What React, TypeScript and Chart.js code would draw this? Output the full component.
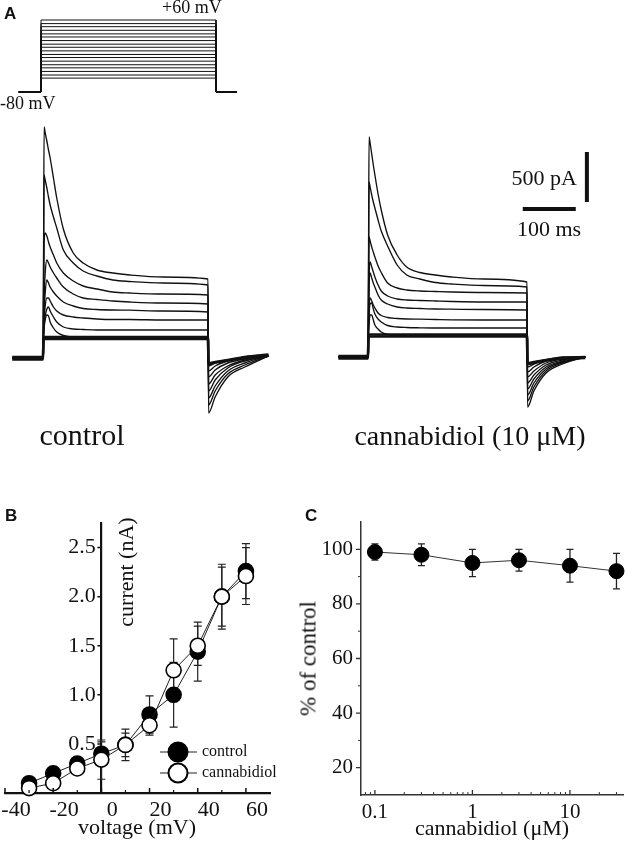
import React, { useEffect, useRef } from "react";
import { Chart, registerables } from "chart.js";

Chart.register(...registerables);

const SERIF = '"Liberation Serif", "Times New Roman", serif';
const SANS = '"Liberation Sans", Arial, sans-serif';
const INK = "#111";

// ---------- Panel A: voltage protocol (ms, mV) ----------
const protocolTime = [-38, 0, 300, 336];
const holdingPotential = -80;
const stepPotentials = [60, 53, 47, 40, 33, 27, 20, 13, 7, 0, -7, -13, -20, -27, -33, -40, -47, -53];

// ---------- Panel A: current traces (ms, pA) ----------
const traceTime = [-56, 0, 1, 2, 4, 7, 10, 13, 19, 25, 37, 55, 73, 98, 127, 158, 218, 300, 301, 313, 336, 367, 410];

const controlTraces = [
  [0, 0, 1000, 2310, 2250, 2170, 2080, 2000, 1800, 1600, 1290, 1050, 950, 880, 850, 830, 810, 790, -550, -390, -190, -90, 20],
  [0, 0, 800, 1830, 1780, 1700, 1610, 1530, 1410, 1300, 1080, 950, 870, 820, 780, 765, 750, 730, -470, -330, -160, -70, 20],
  [0, 0, 600, 1150, 1250, 1220, 1160, 1110, 1030, 950, 850, 770, 720, 690, 660, 650, 640, 630, -400, -280, -130, -50, 20],
  [0, 0, 300, 600, 850, 980, 950, 910, 850, 800, 710, 640, 600, 585, 570, 560, 550, 540, -330, -220, -100, -30, 20],
  [0, 0, 250, 450, 650, 780, 750, 710, 660, 620, 560, 520, 495, 485, 480, 478, 470, 460, -260, -170, -80, -20, 20],
  [0, 0, 230, 380, 520, 600, 600, 570, 510, 470, 430, 410, 400, 390, 385, 385, 380, 380, -190, -120, -50, -10, 20],
  [0, 0, 220, 330, 420, 490, 510, 470, 410, 360, 310, 290, 285, 280, 280, 280, 280, 280, -130, -80, -30, 0, 20],
  [0, 0, 200, 300, 380, 430, 420, 360, 300, 260, 225, 210, 205, 200, 200, 200, 200, 200, -80, -50, -20, 0, 20],
];
const controlLeakTraces = [
  [10, 10, 210, 210, 210, 210, 210, 210, 210, 210, 210, 210, 210, 210, 210, 210, 210, 210, -50, -40, -20, 10, 35],
  [-15, -15, 190, 190, 190, 190, 190, 190, 190, 190, 190, 190, 190, 190, 190, 190, 190, 190, -60, -45, -25, 5, 25],
];

const cbdTraces = [
  [0, 0, 1000, 2200, 2140, 2030, 1920, 1820, 1630, 1470, 1220, 1020, 900, 845, 820, 800, 780, 750, -500, -340, -160, -70, 0],
  [0, 0, 800, 1750, 1700, 1620, 1550, 1490, 1370, 1260, 1110, 920, 820, 780, 745, 730, 715, 700, -440, -300, -140, -60, 0],
  [0, 0, 600, 1200, 1160, 1100, 1050, 1000, 910, 845, 740, 690, 670, 660, 655, 650, 645, 640, -380, -260, -120, -50, 0],
  [0, 0, 400, 800, 950, 900, 850, 800, 720, 660, 610, 580, 570, 565, 560, 555, 550, 550, -320, -220, -100, -40, 0],
  [0, 0, 350, 700, 840, 790, 740, 700, 620, 570, 530, 500, 490, 485, 480, 478, 475, 470, -260, -180, -80, -30, 0],
  [0, 0, 300, 500, 590, 560, 520, 490, 440, 415, 395, 385, 380, 378, 375, 372, 370, 370, -200, -140, -60, -20, 0],
  [0, 0, 250, 420, 530, 540, 480, 430, 380, 350, 315, 300, 295, 292, 290, 290, 290, 290, -150, -100, -40, -10, 0],
  [0, 0, 220, 330, 420, 420, 370, 320, 280, 250, 225, 215, 212, 210, 210, 210, 210, 210, -100, -70, -30, 0, 0],
];
const cbdLeakTraces = [
  [10, 10, 225, 225, 225, 225, 225, 225, 225, 225, 225, 225, 225, 225, 225, 225, 225, 225, -60, -50, -30, -10, 0],
  [-15, -15, 205, 205, 205, 205, 205, 205, 205, 205, 205, 205, 205, 205, 205, 205, 205, 205, -70, -55, -35, -15, -10],
];

// scale bars: 500 pA and 100 ms
const scaleBarCurrentPA = [1550, 2050];
const scaleBarCurrentAt = 413;
const scaleBarTimeMs = [292, 392];
const scaleBarTimeAt = 1480;

// ---------- Panel B: I-V relation ----------
const voltages = [-30, -20, -10, 0, 10, 20, 30, 40, 50, 60];
const controlCurrent = [0.1, 0.2, 0.3, 0.4, 0.49, 0.8, 1.0, 1.44, 2.0, 2.26];
const controlSem = [0.03, 0.03, 0.04, 0.12, 0.12, 0.19, 0.33, 0.3, 0.33, 0.28];
const cbdCurrent = [0.05, 0.1, 0.25, 0.34, 0.49, 0.69, 1.25, 1.5, 2.0, 2.21];
const cbdSem = [0.03, 0.03, 0.05, 0.2, 0.16, 0.1, 0.32, 0.2, 0.3, 0.29];
const ivXTicks = [-40, -20, 0, 20, 40, 60];
const ivXMinor = [-30, -10, 10, 30, 50];
const ivYTicks = [0.5, 1.0, 1.5, 2.0, 2.5];

// ---------- Panel C: concentration dependence ----------
const concentrations = [0.1, 0.3, 1, 3, 10, 30];
const percentControl = [99, 98, 95, 96, 94, 92];
const percentSem = [3, 4, 5, 4, 6, 6.5];
const doseXTicks = [0.1, 1, 10];
const doseXMinor = [0.08, 0.09, 0.2, 0.3, 0.4, 0.5, 0.6, 0.7, 0.8, 0.9, 2, 3, 4, 5, 6, 7, 8, 9, 20, 30];
const doseYTicks = [20, 40, 60, 80, 100];
const doseYMinor = [30, 50, 70, 90];

// ---------- decoration plugin (error bars, tick marks, legend) ----------
function makeDecor(cfg: any) {
  return {
    id: "decor",
    beforeDatasetsDraw(chart: any) {
      const ctx = chart.ctx;
      for (const b of cfg.errorBars || []) {
        const meta = chart.getDatasetMeta(b.dataset);
        const ds = chart.data.datasets[b.dataset];
        const ys = chart.scales[meta.yAxisID];
        ctx.save();
        ctx.strokeStyle = b.color;
        ctx.lineWidth = b.width;
        meta.data.forEach((el: any, i: number) => {
          const v = ds.data[i].y;
          const e = b.errors[i];
          const x = el.x;
          const y1 = ys.getPixelForValue(v + e);
          const y2 = ys.getPixelForValue(v - e);
          ctx.beginPath();
          ctx.moveTo(x, y1);
          ctx.lineTo(x, y2);
          ctx.moveTo(x - b.cap, y1);
          ctx.lineTo(x + b.cap, y1);
          ctx.moveTo(x - b.cap, y2);
          ctx.lineTo(x + b.cap, y2);
          ctx.stroke();
        });
        ctx.restore();
      }
    },
    afterDraw(chart: any) {
      const ctx = chart.ctx;
      const area = chart.chartArea;
      for (const t of cfg.tickMarks || []) {
        const sc = chart.scales[t.axis];
        ctx.save();
        ctx.strokeStyle = t.color;
        ctx.lineWidth = t.width;
        ctx.beginPath();
        for (const v of t.values) {
          const p = sc.getPixelForValue(v);
          if (t.axis === "x") {
            const y0 = area.bottom;
            ctx.moveTo(p, y0);
            ctx.lineTo(p, y0 + t.dir * t.length);
          } else {
            const x0 = t.cross !== undefined ? chart.scales.x.getPixelForValue(t.cross) : area.left;
            ctx.moveTo(x0, p);
            ctx.lineTo(x0 + t.dir * t.length, p);
          }
        }
        ctx.stroke();
        ctx.restore();
      }
      for (const it of cfg.legend || []) {
        const ds = chart.data.datasets[it.dataset];
        ctx.save();
        ctx.strokeStyle = ds.borderColor;
        ctx.lineWidth = 1.2;
        ctx.beginPath();
        ctx.moveTo(it.x1, it.y);
        ctx.lineTo(it.x2, it.y);
        ctx.stroke();
        ctx.beginPath();
        ctx.arc(it.cx, it.y, it.r, 0, Math.PI * 2);
        ctx.fillStyle = ds.pointBackgroundColor;
        ctx.fill();
        ctx.lineWidth = 2;
        ctx.strokeStyle = ds.pointBorderColor;
        ctx.stroke();
        ctx.fillStyle = INK;
        ctx.font = `${it.size}px ${SERIF}`;
        ctx.textBaseline = "middle";
        ctx.textAlign = "left";
        ctx.fillText(ds.label, it.tx, it.y);
        ctx.restore();
      }
    },
  };
}

function ChartBox({ left, top, width, height, make }: any) {
  const ref = useRef<HTMLCanvasElement>(null);
  useEffect(() => {
    const chart = new Chart(ref.current as HTMLCanvasElement, make());
    return () => chart.destroy();
  }, []);
  return (
    <canvas
      ref={ref}
      width={width}
      height={height}
      style={{ position: "absolute", left, top, width, height }}
    />
  );
}

const hiddenScale = (min: number, max: number) => ({
  type: "linear",
  min,
  max,
  display: false,
});

const baseOptions = {
  animation: false,
  responsive: false,
  events: [],
  plugins: { legend: { display: false }, tooltip: { enabled: false } },
};

function traceDataset(values: number[], width: number) {
  return {
    data: traceTime.map((t, i) => ({ x: t, y: values[i] })),
    borderColor: INK,
    borderWidth: width,
    pointRadius: 0,
    cubicInterpolationMode: "monotone",
    clip: false,
  };
}

function protocolConfig(): any {
  return {
    type: "line",
    data: {
      datasets: stepPotentials.map((v) => ({
        data: [
          { x: protocolTime[0], y: holdingPotential },
          { x: protocolTime[1], y: holdingPotential },
          { x: protocolTime[1], y: v },
          { x: protocolTime[2], y: v },
          { x: protocolTime[2], y: holdingPotential },
          { x: protocolTime[3], y: holdingPotential },
        ],
        borderColor: INK,
        borderWidth: 1,
        pointRadius: 0,
        tension: 0,
      })),
    },
    options: {
      ...baseOptions,
      layout: { padding: 0, autoPadding: false },
      scales: { x: hiddenScale(-70.3, 375.4), y: hiddenScale(-115, 98.9) },
    },
  };
}

function traceConfig(traces: number[][], leaks: number[][], xr: number[], yr: number[], bars: boolean): any {
  const datasets: any[] = [
    ...leaks.map((v) => traceDataset(v, 2.6)),
    ...traces.map((v) => traceDataset(v, 1.35)),
  ];
  if (bars) {
    datasets.push({
      data: scaleBarCurrentPA.map((c) => ({ x: scaleBarCurrentAt, y: c })),
      borderColor: INK,
      borderWidth: 4,
      pointRadius: 0,
      clip: false,
    });
    datasets.push({
      data: scaleBarTimeMs.map((t) => ({ x: t, y: scaleBarTimeAt })),
      borderColor: INK,
      borderWidth: 4,
      pointRadius: 0,
      clip: false,
    });
  }
  return {
    type: "line",
    data: { datasets },
    options: {
      ...baseOptions,
      layout: { padding: 0, autoPadding: false },
      scales: { x: hiddenScale(xr[0], xr[1]), y: hiddenScale(yr[0], yr[1]) },
    },
  };
}

function ivConfig(): any {
  const tickFont = { family: SERIF, size: 22 };
  return {
    type: "line",
    data: {
      datasets: [
        {
          label: "cannabidiol",
          data: voltages.map((v, i) => ({ x: v, y: cbdCurrent[i] })),
          borderColor: "#222",
          borderWidth: 1,
          pointRadius: 7.5,
          pointBackgroundColor: "#fff",
          pointBorderColor: "#000",
          pointBorderWidth: 1.6,
          tension: 0,
          order: 0,
          clip: false,
        },
        {
          label: "control",
          data: voltages.map((v, i) => ({ x: v, y: controlCurrent[i] })),
          borderColor: "#222",
          borderWidth: 1,
          pointRadius: 7.5,
          pointBackgroundColor: "#000",
          pointBorderColor: "#000",
          pointBorderWidth: 1.6,
          tension: 0,
          order: 1,
          clip: false,
        },
      ],
    },
    options: {
      ...baseOptions,
      layout: { padding: { left: 5, right: 30, top: 23, bottom: 0 }, autoPadding: false },
      scales: {
        x: {
          type: "linear",
          min: -40,
          max: 70,
          position: "bottom",
          afterBuildTicks: (s: any) => {
            s.ticks = ivXTicks.map((v) => ({ value: v }));
          },
          afterFit: (s: any) => {
            s.height = 57;
            s.paddingLeft = 0;
            s.paddingRight = 0;
          },
          ticks: { font: tickFont, color: INK, labelOffset: 11, padding: 4, maxRotation: 0, autoSkip: false },
          grid: { display: true, drawOnChartArea: false, drawTicks: false },
          border: { color: INK, width: 2.2 },
        },
        y: {
          type: "linear",
          min: 0,
          max: 2.75,
          position: { x: 0 },
          afterBuildTicks: (s: any) => {
            s.ticks = ivYTicks.map((v) => ({ value: v }));
          },
          afterFit: (s: any) => {
            s.paddingTop = 0;
            s.paddingBottom = 0;
          },
          ticks: {
            font: tickFont,
            color: INK,
            autoSkip: false,
            // trailing space keeps the label clear of the centred axis line
            callback: (v: any) => Number(v).toFixed(1) + " ",
          },
          grid: { display: true, drawOnChartArea: false, drawTicks: false },
          border: { color: INK, width: 2.2 },
        },
      },
    },
    plugins: [
      makeDecor({
        errorBars: [
          { dataset: 1, errors: controlSem, cap: 4, color: "#222", width: 1.2 },
          { dataset: 0, errors: cbdSem, cap: 4, color: "#222", width: 1.2 },
        ],
        tickMarks: [
          { axis: "x", values: ivXTicks, length: 5, dir: -1, color: INK, width: 1.5 },
          { axis: "x", values: ivXMinor, length: 3, dir: -1, color: INK, width: 1.2 },
          { axis: "y", values: ivYTicks, length: 4, dir: -1, cross: 0, color: INK, width: 1.5 },
        ],
        legend: [
          { dataset: 1, x1: 160, x2: 197, cx: 178, y: 252, r: 9.5, tx: 202, size: 16 },
          { dataset: 0, x1: 160, x2: 197, cx: 178, y: 273, r: 9.5, tx: 202, size: 16 },
        ],
      }),
    ],
  };
}

function doseConfig(): any {
  const tickFont = { family: SERIF, size: 21 };
  const axisColor = "#333";
  return {
    type: "line",
    data: {
      datasets: [
        {
          label: "cannabidiol",
          data: concentrations.map((c, i) => ({ x: c, y: percentControl[i] })),
          borderColor: "#333",
          borderWidth: 1,
          pointRadius: 7.5,
          pointBackgroundColor: "#000",
          pointBorderColor: "#000",
          pointBorderWidth: 1,
          tension: 0,
          clip: false,
        },
      ],
    },
    options: {
      ...baseOptions,
      layout: { padding: { left: 0, right: 2, top: 22, bottom: 0 }, autoPadding: false },
      scales: {
        x: {
          type: "logarithmic",
          min: 0.072,
          max: 35,
          afterBuildTicks: (s: any) => {
            s.ticks = doseXTicks.map((v) => ({ value: v }));
          },
          afterFit: (s: any) => {
            s.height = 55;
            s.paddingLeft = 0;
            s.paddingRight = 0;
          },
          ticks: {
            font: tickFont,
            color: INK,
            padding: 5,
            maxRotation: 0,
            autoSkip: false,
            callback: (v: any) => String(Number(v)),
          },
          grid: { display: true, drawOnChartArea: false, drawTicks: false },
          border: { color: axisColor, width: 1.5 },
        },
        y: {
          type: "linear",
          min: 10,
          max: 110,
          afterBuildTicks: (s: any) => {
            s.ticks = doseYTicks.map((v) => ({ value: v }));
          },
          afterFit: (s: any) => {
            s.width = 61;
            s.paddingTop = 0;
            s.paddingBottom = 0;
          },
          ticks: { font: tickFont, color: INK, padding: 8, autoSkip: false },
          grid: { display: true, drawOnChartArea: false, drawTicks: false },
          border: { color: axisColor, width: 1.5 },
        },
      },
    },
    plugins: [
      makeDecor({
        errorBars: [{ dataset: 0, errors: percentSem, cap: 3.5, color: "#222", width: 1.3 }],
        tickMarks: [
          { axis: "x", values: doseXTicks, length: 5, dir: -1, color: axisColor, width: 1.3 },
          { axis: "x", values: doseXMinor, length: 3, dir: -1, color: axisColor, width: 1 },
          { axis: "y", values: doseYTicks, length: 5, dir: -1, color: axisColor, width: 1.3 },
          { axis: "y", values: doseYMinor, length: 3, dir: -1, color: axisColor, width: 1 },
        ],
      }),
    ],
  };
}

function Label({ text, x, y, size, align = "left", family = SERIF, weight = 400, rotate = false }: any) {
  if (rotate) {
    return (
      <div
        style={{
          position: "absolute",
          left: x - 150,
          top: y - size / 2,
          width: 300,
          height: size,
          lineHeight: size + "px",
          textAlign: "center",
          fontFamily: family,
          fontSize: size,
          color: INK,
          whiteSpace: "nowrap",
          transform: "rotate(-90deg)",
          transformOrigin: "50% 50%",
        }}
      >
        {text}
      </div>
    );
  }
  const k = family === SANS ? 0.8465 : 0.8375;
  let left = x;
  let width: any = undefined;
  if (align === "center") {
    left = x - 300;
    width = 600;
  } else if (align === "right") {
    left = x - 600;
    width = 600;
  }
  return (
    <div
      style={{
        position: "absolute",
        left,
        top: y - k * size,
        width,
        fontFamily: family,
        fontSize: size,
        fontWeight: weight,
        lineHeight: size + "px",
        textAlign: align,
        whiteSpace: "nowrap",
        color: INK,
      }}
    >
      {text}
    </div>
  );
}

export default function App() {
  return (
    <div
      style={{
        position: "absolute",
        left: 0,
        top: 0,
        width: 625,
        height: 850,
        overflow: "hidden",
        background: "#fff",
      }}
    >
      <ChartBox left={0} top={0} width={260} height={110} make={protocolConfig} />
      <ChartBox
        left={0}
        top={115}
        width={285}
        height={305}
        make={() => traceConfig(controlTraces, controlLeakTraces, [-78.18, 440], [-620, 2430], false)}
      />
      <ChartBox
        left={320}
        top={115}
        width={290}
        height={305}
        make={() => traceConfig(cbdTraces, cbdLeakTraces, [-90.57, 456.6], [-630, 2420], true)}
      />
      <ChartBox left={0} top={500} width={300} height={350} make={ivConfig} />
      <ChartBox left={300} top={500} width={325} height={350} make={doseConfig} />

      <Label text="A" x={4} y={19} size={17} family={SANS} weight={700} />
      <Label text="+60 mV" x={162} y={13.5} size={18} />
      <Label text="-80 mV" x={0} y={109} size={18} />
      <Label text="500 pA" x={577} y={185} size={22} align="right" />
      <Label text="100 ms" x={549} y={236} size={22} align="center" />
      <Label text="control" x={82} y={445} size={30} align="center" />
      <Label text="cannabidiol (10 μM)" x={470} y={445} size={28} align="center" />

      <Label text="B" x={5} y={521} size={17} family={SANS} weight={700} />
      <Label text="current (nA)" x={126} y={572} size={22} rotate />
      <Label text="voltage (mV)" x={137} y={834} size={22} align="center" />

      <Label text="C" x={305} y={521} size={17} family={SANS} weight={700} />
      <Label text="% of control" x={308} y={658} size={23} rotate />
      <Label text="cannabidiol (μM)" x={492} y={835} size={22} align="center" />
    </div>
  );
}
